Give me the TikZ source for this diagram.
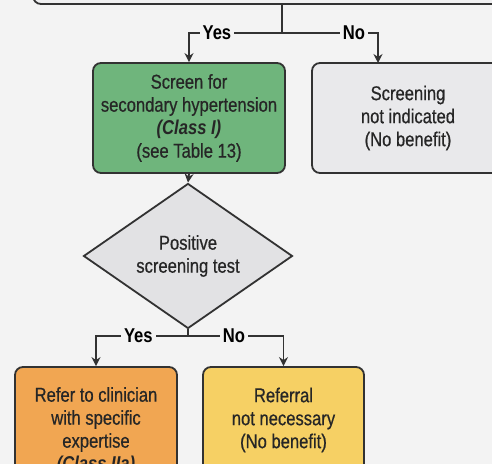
\documentclass[tikz,border=0pt]{standalone}
\usepackage{fontspec}
\setmainfont{Liberation Sans}[FakeStretch=0.83,
  UprightFeatures={FakeBold=0.6}, ItalicFeatures={FakeBold=0.6}]
\usetikzlibrary{arrows.meta,shapes.geometric}
\definecolor{bgpaper}{RGB}{243,243,243}
\definecolor{edgegray}{RGB}{50,50,50}
\definecolor{topfill}{RGB}{240,240,241}
\definecolor{greenfill}{RGB}{111,181,124}
\definecolor{grayfill}{RGB}{233,233,235}
\definecolor{diamfill}{RGB}{226,226,228}
\definecolor{orangefill}{RGB}{241,166,82}
\definecolor{yellowfill}{RGB}{246,208,100}
\newcommand{\chartfont}{\fontsize{10}{11.5}\selectfont}
\tikzset{
  box/.style={draw=edgegray, line width=0.9pt, rounded corners=4pt,
    align=center, font=\chartfont, inner sep=0pt, text=black!85},
  decision/.style={diamond, draw=edgegray, line width=0.9pt, fill=diamfill,
    align=center, font=\chartfont, inner sep=0pt, text=black!85},
  link/.style={draw=edgegray, line width=0.9pt},
  lbl/.style={fill=bgpaper, inner sep=1.5pt, font=\chartfont\bfseries}
}
\begin{document}
\begin{tikzpicture}[x=0.5pt,y=-0.5pt]
	% paper
	\fill[bgpaper] (0,0) rectangle (492,464);
	\clip (0,0) rectangle (492,464);
	
	% boxes
	\node[box, fill=topfill, minimum width=249pt, minimum height=34pt] (assess) at (282,-30) {};
	\node[box, fill=greenfill, minimum width=96pt, minimum height=55pt] (screen) at (189,118)
	{Screen for\\secondary hypertension\\\textbf{\textit{(Class I)}}\\(see Table 13)};
	\node[box, fill=grayfill, minimum width=96pt, minimum height=55pt] (notind) at (408,118)
	{Screening\\not indicated\\(No benefit)};
	\node[decision, minimum width=104.5pt, minimum height=51pt] (test) at (188,256)
	{Positive\\screening test};
	\node[box, fill=orangefill, minimum width=81pt, minimum height=64pt] (refer) at (96,431)
	{Refer to clinician\\with specific\\expertise\\\textbf{\textit{(Class IIa)}}};
	\node[box, fill=yellowfill, minimum width=80.5pt, minimum height=53pt] (noref) at (283.5,420)
	{Referral\\not necessary\\(No benefit)};
	
	% junctions
	\coordinate (j1) at (282,33);
	\coordinate (noscr) at (378,63);
	\coordinate (j2) at (188,336);
	
	% connectors
	\draw[link] (assess.south) -- (j1);
	\draw[link, ->,>={Stealth[length=4.5pt,width=4.5pt]}] (j1) -| node[lbl, pos=0.35]{Yes} (screen.north);
	\draw[link, ->,>={Stealth[length=4.5pt,width=4.5pt]}] (j1) -| node[lbl, pos=0.375]{No} (noscr);
	\draw[link, ->,>={Stealth[length=4.5pt,width=4.5pt]}] (screen.south) -- (test.north);
	\draw[link] (test.south) -- (j2);
	\draw[link, ->,>={Stealth[length=4.5pt,width=4.5pt]}] (j2) -| node[lbl, pos=0.27]{Yes} (refer.north);
	\draw[link, ->,>={Stealth[length=4.5pt,width=4.5pt]}] (j2) -| node[lbl, pos=0.24]{No} (noref.north);
	
\end{tikzpicture}
\end{document}
